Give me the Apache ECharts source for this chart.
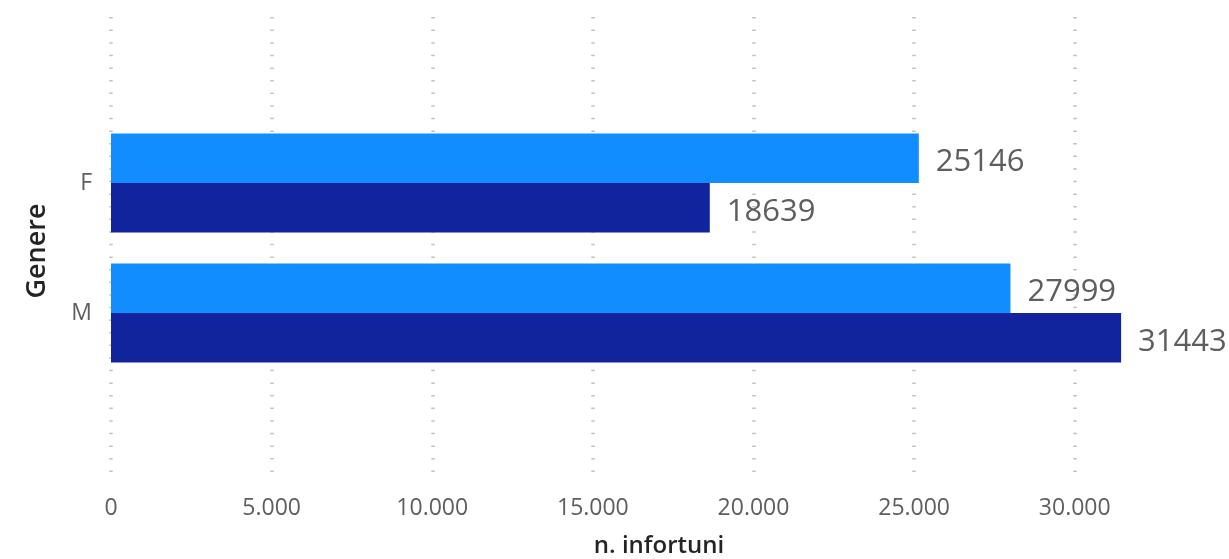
<!DOCTYPE html>
<html>
<head>
<meta charset="utf-8">
<script src="https://cdn.jsdelivr.net/npm/echarts@6/dist/echarts.min.js"></script>
<style>
html,body{margin:0;padding:0;background:#fff;}
#chart{width:1229px;height:559px;}
</style>
</head>
<body>
<div id="chart"></div>
<script>
const categories = ['F', 'M'];
const seriesLight = [25146, 27999];
const seriesDark = [18639, 31443];
const axisMax = 32000;
const tickInterval = 5000;
const xTitle = 'n. infortuni';
const yTitle = 'Genere';

const chart = echarts.init(document.getElementById('chart'));
const fmt = v => {
  if (v % tickInterval !== 0) return '';
  return String(v).replace(/\B(?=(\d{3})+(?!\d))/g, '.');
};
const font = '"Open Sans", "Noto Sans", sans-serif';
const option = {
  animation: false,
  backgroundColor: '#ffffff',
  grid: [
    {left: 111, right: 90, top: 17, bottom: 76},
    {left: 111, right: 90, top: 118, height: 260}
  ],
  xAxis: [
    {
      gridIndex: 0, type: 'value', min: 0, max: axisMax, interval: tickInterval,
      axisLine: {show: false}, axisTick: {show: false},
      axisLabel: {formatter: fmt, color: '#605E5C', fontSize: 23, fontFamily: font, margin: 14},
      splitLine: {show: true, showMaxLine: false, lineStyle: {color: '#c3c1bf', width: 3.5, type: [1.5, 11.1]}}
    },
    {
      gridIndex: 1, type: 'value', min: 0, max: axisMax, show: false
    }
  ],
  yAxis: [
    {gridIndex: 0, type: 'category', data: categories, show: false},
    {
      gridIndex: 1, type: 'category', data: categories, inverse: true,
      axisLine: {show: false}, axisTick: {show: false},
      axisLabel: {color: '#605E5C', fontSize: 23, fontFamily: font, margin: 19, padding: [3, 0, 0, 0]}
    }
  ],
  graphic: [
    {type: 'text', x: 659, y: 546, style: {text: xTitle, align: 'center', verticalAlign: 'middle', fontSize: 24, fontWeight: 600, fontFamily: font, fill: '#252423'}},
    {type: 'text', x: 37, y: 251, rotation: Math.PI / 2, style: {text: yTitle, align: 'center', verticalAlign: 'middle', fontSize: 27, fontWeight: 600, fontFamily: font, fill: '#252423'}}
  ],
  series: [
    {
      type: 'bar', xAxisIndex: 1, yAxisIndex: 1, data: seriesLight,
      barWidth: 49.5, barGap: '0%',
      itemStyle: {color: '#118DFF'},
      label: {show: true, position: 'right', distance: 17, offset: [0, 4], color: '#605E5C', fontSize: 31, fontFamily: font}
    },
    {
      type: 'bar', xAxisIndex: 1, yAxisIndex: 1, data: seriesDark,
      barWidth: 49.5, barGap: '0%',
      itemStyle: {color: '#12239E'},
      label: {show: true, position: 'right', distance: 17, offset: [0, 4], color: '#605E5C', fontSize: 31, fontFamily: font}
    }
  ]
};
chart.setOption(option);
</script>
</body>
</html>
